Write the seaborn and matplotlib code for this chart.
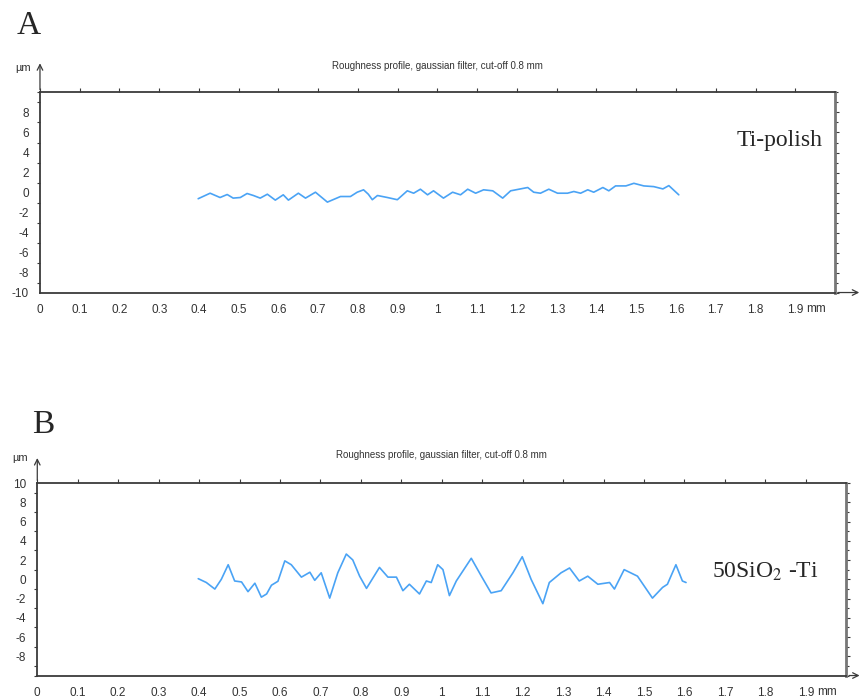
import pandas as pd
import seaborn as sns
import matplotlib.pyplot as plt
from matplotlib.ticker import MultipleLocator

# profile A (Ti-polish), position in mm / height in um
pos_a = [0.398, 0.428, 0.453, 0.471, 0.486, 0.504, 0.521, 0.537, 0.554, 0.572,
         0.592, 0.612, 0.625, 0.650, 0.668, 0.693, 0.723, 0.756, 0.781, 0.798,
         0.814, 0.826, 0.836, 0.849, 0.874, 0.899, 0.924, 0.940, 0.957, 0.975,
         0.990, 1.015, 1.038, 1.058, 1.076, 1.096, 1.116, 1.139, 1.164, 1.184,
         1.227, 1.242, 1.259, 1.280, 1.302, 1.327, 1.343, 1.360, 1.378, 1.393,
         1.416, 1.431, 1.448, 1.474, 1.494, 1.519, 1.544, 1.567, 1.582, 1.607]
height_a = [-0.62, -0.07, -0.50, -0.20, -0.56, -0.50, -0.10, -0.30, -0.56, -0.17,
            -0.76, -0.23, -0.76, -0.07, -0.56, 0.03, -0.96, -0.40, -0.40, 0.03,
            0.27, -0.17, -0.72, -0.30, -0.50, -0.72, 0.17, -0.07, 0.33, -0.23,
            0.17, -0.56, 0.03, -0.23, 0.33, -0.07, 0.27, 0.17, -0.56, 0.17,
            0.50, 0.03, -0.07, 0.33, -0.07, -0.07, 0.10, -0.07, 0.27, 0.03,
            0.50, 0.17, 0.66, 0.66, 0.92, 0.66, 0.59, 0.36, 0.69, -0.23]

# profile B (50SiO2-Ti)
pos_b = [0.398, 0.418, 0.439, 0.455, 0.472, 0.488, 0.505, 0.521, 0.538, 0.554,
         0.567, 0.579, 0.595, 0.612, 0.628, 0.653, 0.674, 0.686, 0.702, 0.723,
         0.743, 0.764, 0.780, 0.797, 0.814, 0.846, 0.867, 0.888, 0.904, 0.920,
         0.945, 0.962, 0.974, 0.990, 1.003, 1.019, 1.036, 1.073, 1.098, 1.122,
         1.147, 1.176, 1.199, 1.221, 1.250, 1.266, 1.295, 1.316, 1.340, 1.361,
         1.386, 1.415, 1.427, 1.451, 1.484, 1.521, 1.546, 1.558, 1.579, 1.595,
         1.604]
height_b = [0.07, -0.33, -1.01, 0.00, 1.52, -0.17, -0.27, -1.28, -0.40, -1.85,
            -1.52, -0.61, -0.20, 1.92, 1.52, 0.23, 0.74, -0.10, 0.68, -1.95,
            0.68, 2.63, 2.02, 0.33, -0.94, 1.24, 0.23, 0.23, -1.18, -0.51,
            -1.52, -0.17, -0.33, 1.52, 1.01, -1.69, -0.17, 2.19, 0.33, -1.41,
            -1.18, 0.68, 2.35, 0.00, -2.53, -0.33, 0.68, 1.18, -0.17, 0.33,
            -0.51, -0.33, -1.01, 1.01, 0.33, -1.95, -0.84, -0.51, 1.52, -0.17,
            -0.33]

x_ticks = [0, 0.1, 0.2, 0.3, 0.4, 0.5, 0.6, 0.7, 0.8, 0.9,
           1.0, 1.1, 1.2, 1.3, 1.4, 1.5, 1.6, 1.7, 1.8, 1.9]
x_labels = ['0', '0.1', '0.2', '0.3', '0.4', '0.5', '0.6', '0.7', '0.8', '0.9',
            '1', '1.1', '1.2', '1.3', '1.4', '1.5', '1.6', '1.7', '1.8', '1.9']
y_ticks_a = [8, 6, 4, 2, 0, -2, -4, -6, -8, -10]
y_ticks_b = [10, 8, 6, 4, 2, 0, -2, -4, -6, -8]

title = 'Roughness profile, gaussian filter, cut-off 0.8 mm'

sns.set_style('white')
plt.rcParams['font.family'] = ['Liberation Sans', 'DejaVu Sans']
plt.rcParams['mathtext.fontset'] = 'stix'
plt.rcParams['axes.unicode_minus'] = False

frame_col = '#3a3a3a'
text_col = '#333333'
line_col = '#4aa3f5'


def draw_panel(ax, df, yticks, arrow_y, arrow_x, title_y, unit_y):
    sns.lineplot(data=df, x='pos', y='height', ax=ax, color=line_col,
                 linewidth=1.2, sort=False)
    ax.set_xlim(0, 2)
    ax.set_ylim(-10, 10)
    ax.set_xticks(x_ticks)
    ax.set_xticklabels(x_labels)
    ax.set_yticks(yticks)
    ax.yaxis.set_minor_locator(MultipleLocator(1))
    ax.set_xlabel('')
    ax.set_ylabel('')
    for s in ax.spines.values():
        s.set_visible(True)
        s.set_color(frame_col)
        s.set_linewidth(1.3)
    ax.spines['right'].set_color('#777777')
    ax.spines['right'].set_linewidth(2)
    ax.tick_params(axis='both', which='major', direction='out', length=3,
                   width=0.8, color=frame_col, labelsize=8.5,
                   labelcolor=text_col, top=True, right=True,
                   labeltop=False, labelright=False, pad=5)
    ax.tick_params(axis='y', which='minor', direction='out', length=2,
                   width=0.8, color=frame_col, left=True, right=True)

    # axis arrows
    ax.annotate('', xy=(0, arrow_y), xytext=(0, 1), xycoords='axes fraction',
                arrowprops=dict(arrowstyle='->', color=frame_col, lw=0.9))
    ax.annotate('', xy=(arrow_x, 0), xytext=(1, 0), xycoords='axes fraction',
                arrowprops=dict(arrowstyle='->', color=frame_col, lw=0.9))

    ax.text(0.5, title_y, title, transform=ax.transAxes, ha='center',
            va='center', fontsize=7, color=text_col)
    ax.text(-0.012, unit_y, 'µm', transform=ax.transAxes, ha='right',
            va='center', fontsize=8, color=text_col)
    ax.annotate('mm', xy=(1.9, 0), xycoords=('data', 'axes fraction'),
                xytext=(8, -11.5), textcoords='offset points', ha='left',
                va='center', fontsize=8.5, color=text_col)


fig = plt.figure(figsize=(8.67, 6.97), dpi=100)
ax_a = fig.add_axes([0.0461, 0.5803, 0.917, 0.287])
ax_b = fig.add_axes([0.043, 0.0308, 0.933, 0.276])

df_a = pd.DataFrame({'pos': pos_a, 'height': height_a})
df_b = pd.DataFrame({'pos': pos_b, 'height': height_b})

draw_panel(ax_a, df_a, y_ticks_a, 1.16, 1.034, 1.13, 1.12)
draw_panel(ax_b, df_b, y_ticks_b, 1.145, 1.02, 1.145, 1.13)

fig.text(0.033, 0.963, 'A', family='Liberation Serif', fontsize=24,
         ha='center', va='center')
fig.text(0.050, 0.390, 'B', family='Liberation Serif', fontsize=24,
         ha='center', va='center')
fig.text(0.899, 0.799, 'Ti-polish', family='Liberation Serif', fontsize=17,
         ha='center', va='center')
fig.text(0.821, 0.171, '50SiO$_2$ -Ti', family='Liberation Serif', fontsize=17,
         ha='left', va='baseline')

fig.savefig('out.png', dpi=100)
